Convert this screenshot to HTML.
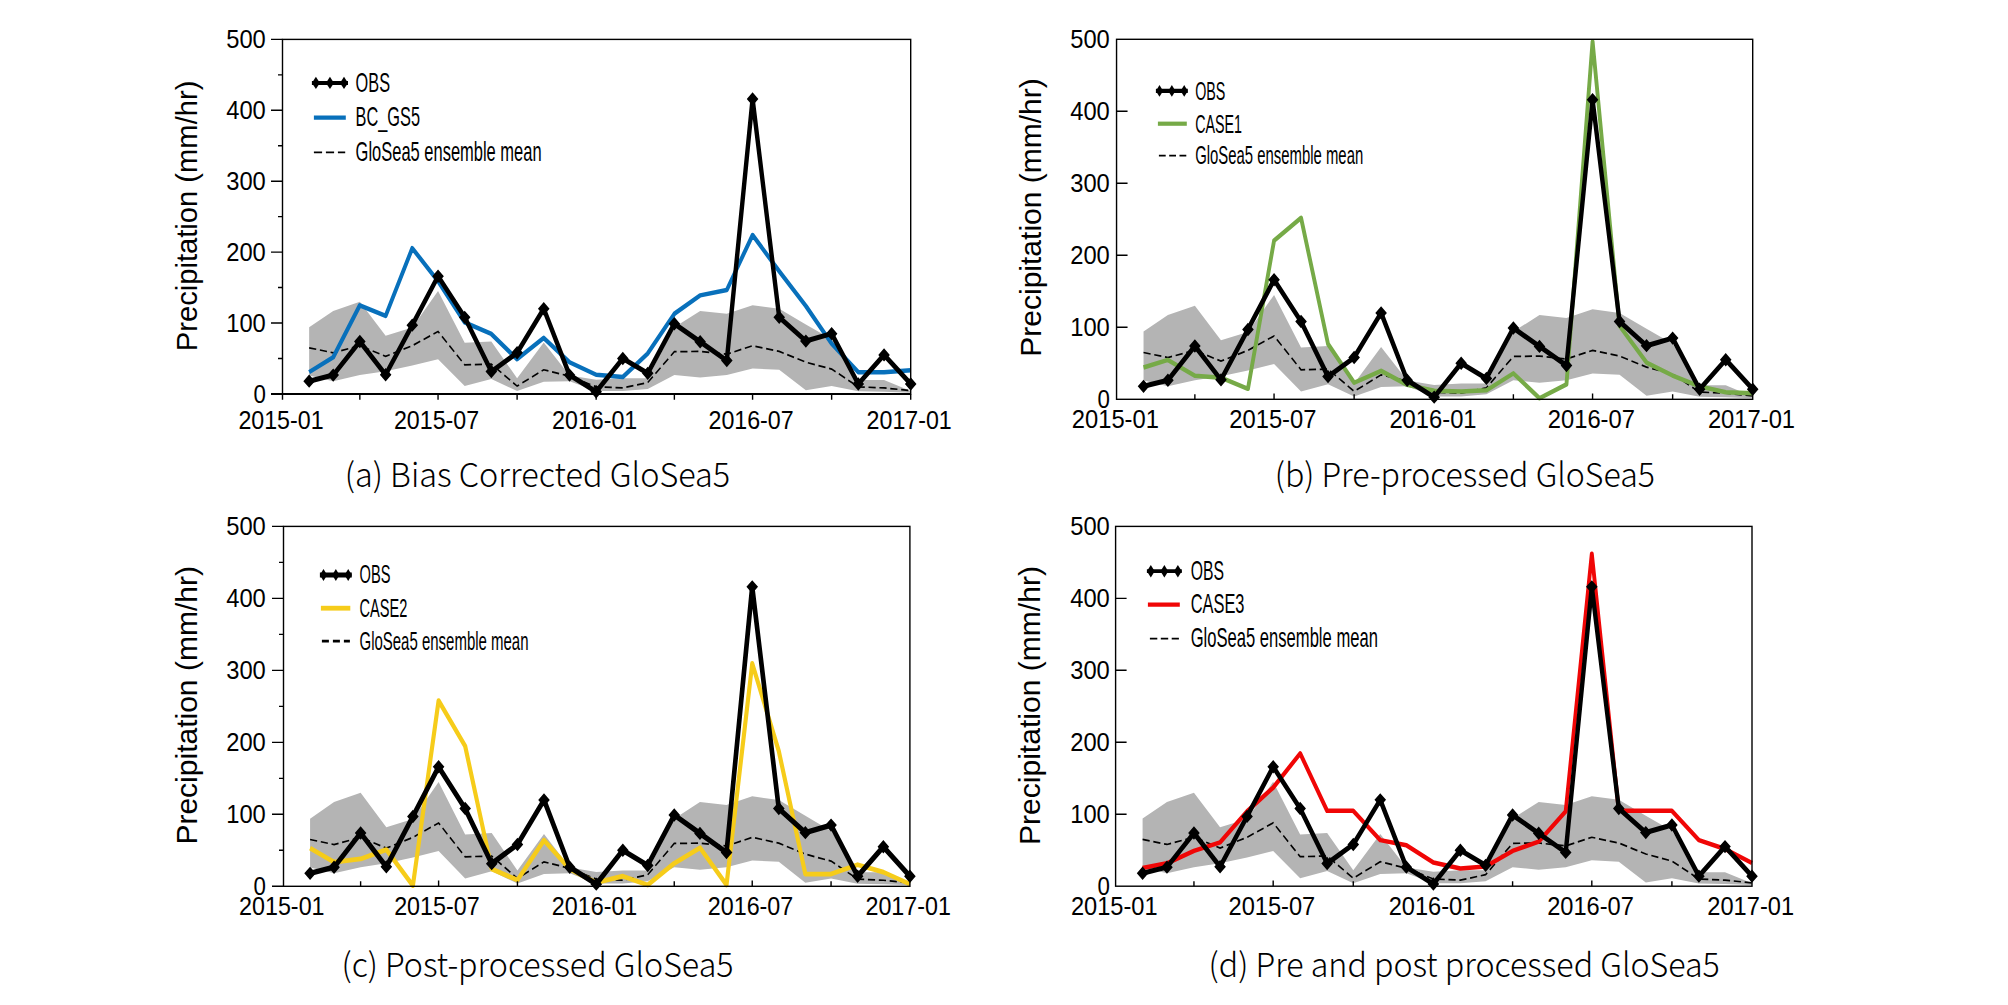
<!DOCTYPE html>
<html lang="en">
<head>
<meta charset="utf-8">
<title>Precipitation: OBS vs GloSea5</title>
<style>
html,body{margin:0;padding:0;background:#fff;}
body{width:2008px;height:1005px;overflow:hidden;}
svg{display:block;}
svg text{font-family:"Liberation Sans",Arial,sans-serif;fill:#000;}
svg text.cap{font-family:"Noto Sans CJK KR","Liberation Sans",sans-serif;font-weight:300;}
</style>
</head>
<body>
<svg width="2008" height="1005" viewBox="0 0 2008 1005">
<rect width="2008" height="1005" fill="#fff"/>
<g id="panel-a">
<clipPath id="clip-a"><rect x="274.5" y="39.4" width="644.2" height="362.5"/></clipPath>
<g clip-path="url(#clip-a)">
<g transform="scale(0.865 1)">
<polygon fill="#B4B4B4" points="357.39,327.25 385.21,310.95 416,301.73 445.81,335.76 476.61,327.61 506.41,291.09 537.21,342.85 568.01,341.43 597.81,378.3 628.61,342.43 658.42,375.47 689.21,379.72 720.01,378.3 748.82,378.3 779.62,327.25 809.43,310.95 840.23,313.78 870.03,305.27 900.83,308.82 931.63,324.42 961.43,339.31 992.23,380.07 1022.03,380.07 1052.83,391.06 1052.83,392.84 1022.03,391.77 992.23,391.35 961.43,386.1 931.63,390.35 900.83,369.79 870.03,368.38 840.23,375.11 809.43,377.59 779.62,375.11 748.82,388.94 720.01,391.06 689.21,391.06 658.42,381.14 628.61,381.85 597.81,391.06 568.01,379.01 537.21,386.1 506.41,359.16 476.61,365.54 445.81,371.21 416,375.11 385.21,381.14 357.39,375.47"/>
<polyline fill="none" stroke="#000" stroke-width="1.7" stroke-dasharray="8.3 4.3" points="357.39,347.81 385.21,352.78 416,345.69 445.81,356.32 476.61,345.69 506.41,331.51 537.21,364.83 568.01,364.12 597.81,386.1 628.61,369.79 658.42,376.17 689.21,386.81 720.01,387.94 748.82,382.56 779.62,351.71 809.43,351.36 840.23,354.2 870.03,345.69 900.83,351.36 931.63,362.21 961.43,369.08 992.23,386.81 1022.03,387.94 1052.83,390.57"/>
<polyline fill="none" stroke="#0870BB" stroke-width="4.5" stroke-linejoin="round" points="357.39,372.13 385.21,357.24 416,305.27 445.81,315.91 476.61,248.2 506.41,281.17 537.21,322.29 568.01,333.92 597.81,359.16 628.61,337.89 658.42,362.21 689.21,374.76 720.01,377.1 748.82,353.49 779.62,313.78 809.43,295.35 840.23,289.96 870.03,235.08 900.83,271.24 931.63,305.98 961.43,343.56 992.23,372.13 1022.03,372.13 1052.83,370.15"/>
<polyline fill="none" stroke="#000" stroke-width="5.1" stroke-linejoin="round" points="357.39,381.14 385.21,375.11 416,341.43 445.81,374.76 476.61,325.13 506.41,276.21 537.21,317.33 568.01,371.57 597.81,352.78 628.61,308.82 658.42,375.11 689.21,391.77 720.01,358.45 748.82,373.34 779.62,323.71 809.43,341.79 840.23,360.58 870.03,98.96 900.83,317.33 931.63,341.08 961.43,333.63 992.23,383.97 1022.03,354.9 1052.83,383.97"/>
<path d="M357.39 374.44L364.09 381.14L357.39 387.84L350.69 381.14ZM385.21 368.41L391.91 375.11L385.21 381.81L378.51 375.11ZM416 334.73L422.7 341.43L416 348.13L409.3 341.43ZM445.81 368.06L452.51 374.76L445.81 381.46L439.11 374.76ZM476.61 318.43L483.31 325.13L476.61 331.83L469.91 325.13ZM506.41 269.51L513.11 276.21L506.41 282.91L499.71 276.21ZM537.21 310.63L543.91 317.33L537.21 324.03L530.51 317.33ZM568.01 364.87L574.71 371.57L568.01 378.27L561.31 371.57ZM597.81 346.08L604.51 352.78L597.81 359.48L591.11 352.78ZM628.61 302.12L635.31 308.82L628.61 315.52L621.91 308.82ZM658.42 368.41L665.12 375.11L658.42 381.81L651.72 375.11ZM689.21 385.07L695.91 391.77L689.21 398.47L682.51 391.77ZM720.01 351.75L726.71 358.45L720.01 365.15L713.31 358.45ZM748.82 366.64L755.52 373.34L748.82 380.04L742.12 373.34ZM779.62 317.01L786.32 323.71L779.62 330.41L772.92 323.71ZM809.43 335.09L816.13 341.79L809.43 348.49L802.73 341.79ZM840.23 353.88L846.93 360.58L840.23 367.28L833.53 360.58ZM870.03 92.26L876.73 98.96L870.03 105.66L863.33 98.96ZM900.83 310.63L907.53 317.33L900.83 324.03L894.13 317.33ZM931.63 334.38L938.33 341.08L931.63 347.78L924.93 341.08ZM961.43 326.94L968.13 333.63L961.43 340.33L954.73 333.63ZM992.23 377.27L998.93 383.97L992.23 390.67L985.53 383.97ZM1022.03 348.2L1028.73 354.9L1022.03 361.6L1015.33 354.9ZM1052.83 377.27L1059.53 383.97L1052.83 390.67L1046.13 383.97Z"/>
</g>
</g>
<rect x="282.5" y="39.4" width="628.2" height="354.5" fill="none" stroke="#000" stroke-width="1.4"/>
<line x1="271" y1="393.9" x2="910.7" y2="393.9" stroke="#000" stroke-width="2"/>
<path d="M282.5 393.9H271M282.5 358.45H278M282.5 323H271M282.5 287.55H278M282.5 252.1H271M282.5 216.65H278M282.5 181.2H271M282.5 145.75H278M282.5 110.3H271M282.5 74.85H278M282.5 39.4H271M282.5 393.9V399.7M359.84 393.9V399.7M438.05 393.9V399.7M517.11 393.9V399.7M596.17 393.9V399.7M674.37 393.9V399.7M752.58 393.9V399.7M831.64 393.9V399.7M910.7 393.9V399.7" stroke="#000" stroke-width="1.4" fill="none"/>
<text x="265.8" y="402.5" font-size="26.5" text-anchor="end" textLength="12.4" lengthAdjust="spacingAndGlyphs" >0</text>
<text x="265.8" y="331.6" font-size="26.5" text-anchor="end" textLength="39.6" lengthAdjust="spacingAndGlyphs" >100</text>
<text x="265.8" y="260.7" font-size="26.5" text-anchor="end" textLength="39.6" lengthAdjust="spacingAndGlyphs" >200</text>
<text x="265.8" y="189.8" font-size="26.5" text-anchor="end" textLength="39.6" lengthAdjust="spacingAndGlyphs" >300</text>
<text x="265.8" y="118.9" font-size="26.5" text-anchor="end" textLength="39.6" lengthAdjust="spacingAndGlyphs" >400</text>
<text x="265.8" y="48" font-size="26.5" text-anchor="end" textLength="39.6" lengthAdjust="spacingAndGlyphs" >500</text>
<text x="238.4" y="428.8" font-size="26.5" text-anchor="start" textLength="85.2" lengthAdjust="spacingAndGlyphs" >2015-01</text>
<text x="393.95" y="428.8" font-size="26.5" text-anchor="start" textLength="85.2" lengthAdjust="spacingAndGlyphs" >2015-07</text>
<text x="552.07" y="428.8" font-size="26.5" text-anchor="start" textLength="85.2" lengthAdjust="spacingAndGlyphs" >2016-01</text>
<text x="708.48" y="428.8" font-size="26.5" text-anchor="start" textLength="85.2" lengthAdjust="spacingAndGlyphs" >2016-07</text>
<text x="866.6" y="428.8" font-size="26.5" text-anchor="start" textLength="85.2" lengthAdjust="spacingAndGlyphs" >2017-01</text>
<text transform="translate(196.8 351.2) rotate(-90)" font-size="29.3" textLength="270.6" lengthAdjust="spacingAndGlyphs">Precipitation (mm/hr)</text>
<line x1="311.9" y1="82.9" x2="348" y2="82.9" stroke="#000" stroke-width="4"/>
<path d="M315.9 76.7L319.9 82.9L315.9 89.1L311.9 82.9Z"/>
<path d="M329.95 76.7L333.95 82.9L329.95 89.1L325.95 82.9Z"/>
<path d="M344 76.7L348 82.9L344 89.1L340 82.9Z"/>
<line x1="313.9" y1="117.7" x2="345.8" y2="117.7" stroke="#0870BB" stroke-width="4.2"/>
<line x1="313.9" y1="152.4" x2="345.2" y2="152.4" stroke="#000" stroke-width="1.6" stroke-dasharray="8.2 3.8"/>
<text x="355.6" y="91.53" font-size="28" text-anchor="start" textLength="34.4" lengthAdjust="spacingAndGlyphs" >OBS</text>
<text x="355.6" y="126.33" font-size="28" text-anchor="start" textLength="64.4" lengthAdjust="spacingAndGlyphs" >BC_GS5</text>
<text x="355.6" y="161.03" font-size="28" text-anchor="start" textLength="186" lengthAdjust="spacingAndGlyphs" >GloSea5 ensemble mean</text>
<text x="344.8" y="487.4" font-size="33.2" class="cap" textLength="385.4" lengthAdjust="spacingAndGlyphs">(a) Bias Corrected GloSea5</text>
</g>
<g id="panel-b">
<clipPath id="clip-b"><rect x="1108.55" y="39.3" width="652.15" height="368"/></clipPath>
<g clip-path="url(#clip-b)">
<g transform="scale(0.865 1)">
<polygon fill="#B4B4B4" points="1322,331.62 1350.17,315.06 1381.36,305.7 1411.54,340.26 1442.73,331.98 1472.91,294.9 1504.1,347.46 1535.28,346.02 1565.46,383.46 1596.65,347.03 1626.83,380.58 1658.02,384.9 1689.21,383.46 1718.39,383.46 1749.57,331.62 1779.76,315.06 1810.94,317.94 1841.13,309.3 1872.31,312.9 1903.5,328.74 1933.68,343.86 1964.87,385.26 1995.05,385.26 2026.24,396.42 2026.24,398.22 1995.05,397.14 1964.87,396.71 1933.68,391.38 1903.5,395.7 1872.31,374.82 1841.13,373.38 1810.94,380.22 1779.76,382.74 1749.57,380.22 1718.39,394.26 1689.21,396.42 1658.02,396.42 1626.83,386.34 1596.65,387.06 1565.46,396.42 1535.28,384.18 1504.1,391.38 1472.91,364.02 1442.73,370.5 1411.54,376.26 1381.36,380.22 1350.17,386.34 1322,380.58"/>
<polyline fill="none" stroke="#000" stroke-width="1.7" stroke-dasharray="8.3 4.3" points="1322,352.5 1350.17,357.54 1381.36,350.34 1411.54,361.14 1442.73,350.34 1472.91,335.94 1504.1,369.78 1535.28,369.06 1565.46,391.38 1596.65,374.82 1626.83,381.3 1658.02,392.1 1689.21,393.25 1718.39,387.78 1749.57,356.46 1779.76,356.1 1810.94,358.98 1841.13,350.34 1872.31,356.1 1903.5,367.12 1933.68,374.1 1964.87,392.1 1995.05,393.25 2026.24,395.92"/>
<polyline fill="none" stroke="#76AA47" stroke-width="4.5" stroke-linejoin="round" points="1322,367.48 1350.17,359.92 1381.36,375.83 1411.54,377.7 1442.73,388.79 1472.91,240.61 1504.1,217.86 1535.28,344 1565.46,382.74 1596.65,370.86 1626.83,384.9 1658.02,390.66 1689.21,391.38 1718.39,390.37 1749.57,373.38 1779.76,398.29 1810.94,384.4 1841.13,41.46 1872.31,325.86 1903.5,362.58 1933.68,375.54 1964.87,386.34 1995.05,392.32 2026.24,393.32"/>
<polyline fill="none" stroke="#000" stroke-width="5.1" stroke-linejoin="round" points="1322,386.34 1350.17,380.22 1381.36,346.02 1411.54,379.86 1442.73,329.46 1472.91,279.78 1504.1,321.54 1535.28,376.62 1565.46,357.54 1596.65,312.9 1626.83,380.22 1658.02,397.14 1689.21,363.3 1718.39,378.42 1749.57,328.02 1779.76,346.38 1810.94,365.46 1841.13,99.78 1872.31,321.54 1903.5,345.66 1933.68,338.1 1964.87,389.22 1995.05,359.7 2026.24,389.22"/>
<path d="M1322 379.64L1328.7 386.34L1322 393.04L1315.3 386.34ZM1350.17 373.52L1356.87 380.22L1350.17 386.92L1343.47 380.22ZM1381.36 339.32L1388.06 346.02L1381.36 352.72L1374.66 346.02ZM1411.54 373.16L1418.24 379.86L1411.54 386.56L1404.84 379.86ZM1442.73 322.76L1449.43 329.46L1442.73 336.16L1436.03 329.46ZM1472.91 273.08L1479.61 279.78L1472.91 286.48L1466.21 279.78ZM1504.1 314.84L1510.8 321.54L1504.1 328.24L1497.4 321.54ZM1535.28 369.92L1541.98 376.62L1535.28 383.32L1528.58 376.62ZM1565.46 350.84L1572.16 357.54L1565.46 364.24L1558.76 357.54ZM1596.65 306.2L1603.35 312.9L1596.65 319.6L1589.95 312.9ZM1626.83 373.52L1633.53 380.22L1626.83 386.92L1620.13 380.22ZM1658.02 390.44L1664.72 397.14L1658.02 403.84L1651.32 397.14ZM1689.21 356.6L1695.91 363.3L1689.21 370L1682.51 363.3ZM1718.39 371.72L1725.09 378.42L1718.39 385.12L1711.69 378.42ZM1749.57 321.32L1756.27 328.02L1749.57 334.72L1742.87 328.02ZM1779.76 339.68L1786.46 346.38L1779.76 353.08L1773.06 346.38ZM1810.94 358.76L1817.64 365.46L1810.94 372.16L1804.24 365.46ZM1841.13 93.08L1847.83 99.78L1841.13 106.48L1834.43 99.78ZM1872.31 314.84L1879.01 321.54L1872.31 328.24L1865.61 321.54ZM1903.5 338.96L1910.2 345.66L1903.5 352.36L1896.8 345.66ZM1933.68 331.4L1940.38 338.1L1933.68 344.8L1926.98 338.1ZM1964.87 382.52L1971.57 389.22L1964.87 395.92L1958.17 389.22ZM1995.05 353L2001.75 359.7L1995.05 366.4L1988.35 359.7ZM2026.24 382.52L2032.94 389.22L2026.24 395.92L2019.54 389.22Z"/>
</g>
</g>
<rect x="1116.55" y="39.3" width="636.15" height="360" fill="none" stroke="#000" stroke-width="1.4"/>
<path d="M1116.55 327.3H1127.55M1116.55 255.3H1127.55M1116.55 183.3H1127.55M1116.55 111.3H1127.55M1194.87 399.3V394.3M1274.06 399.3V393.5M1354.13 399.3V394.3M1434.19 399.3V393.5M1513.38 399.3V394.3M1592.57 399.3V393.5M1672.64 399.3V394.3" stroke="#000" stroke-width="1.4" fill="none"/>
<text x="1109.8" y="407.9" font-size="26.5" text-anchor="end" textLength="12.4" lengthAdjust="spacingAndGlyphs" >0</text>
<text x="1109.8" y="335.9" font-size="26.5" text-anchor="end" textLength="39.6" lengthAdjust="spacingAndGlyphs" >100</text>
<text x="1109.8" y="263.9" font-size="26.5" text-anchor="end" textLength="39.6" lengthAdjust="spacingAndGlyphs" >200</text>
<text x="1109.8" y="191.9" font-size="26.5" text-anchor="end" textLength="39.6" lengthAdjust="spacingAndGlyphs" >300</text>
<text x="1109.8" y="119.9" font-size="26.5" text-anchor="end" textLength="39.6" lengthAdjust="spacingAndGlyphs" >400</text>
<text x="1109.8" y="47.9" font-size="26.5" text-anchor="end" textLength="39.6" lengthAdjust="spacingAndGlyphs" >500</text>
<text x="1071.75" y="428.4" font-size="26.5" text-anchor="start" textLength="87.2" lengthAdjust="spacingAndGlyphs" >2015-01</text>
<text x="1229.26" y="428.4" font-size="26.5" text-anchor="start" textLength="87.2" lengthAdjust="spacingAndGlyphs" >2015-07</text>
<text x="1389.39" y="428.4" font-size="26.5" text-anchor="start" textLength="87.2" lengthAdjust="spacingAndGlyphs" >2016-01</text>
<text x="1547.77" y="428.4" font-size="26.5" text-anchor="start" textLength="87.2" lengthAdjust="spacingAndGlyphs" >2016-07</text>
<text x="1707.9" y="428.4" font-size="26.5" text-anchor="start" textLength="87.2" lengthAdjust="spacingAndGlyphs" >2017-01</text>
<text transform="translate(1040.8 356.7) rotate(-90)" font-size="29.3" textLength="278.5" lengthAdjust="spacingAndGlyphs">Precipitation (mm/hr)</text>
<line x1="1155.9" y1="90.9" x2="1187.8" y2="90.9" stroke="#000" stroke-width="4.2"/>
<path d="M1159.5 85.1L1163.1 90.9L1159.5 96.7L1155.9 90.9Z"/>
<path d="M1171.85 85.1L1175.45 90.9L1171.85 96.7L1168.25 90.9Z"/>
<path d="M1184.2 85.1L1187.8 90.9L1184.2 96.7L1180.6 90.9Z"/>
<line x1="1157.9" y1="123.7" x2="1186.8" y2="123.7" stroke="#76AA47" stroke-width="4.2"/>
<line x1="1158.9" y1="155.6" x2="1186.4" y2="155.6" stroke="#000" stroke-width="1.6" stroke-dasharray="6.8 3.5"/>
<text x="1195.2" y="99.74" font-size="25.7" text-anchor="start" textLength="30.2" lengthAdjust="spacingAndGlyphs" >OBS</text>
<text x="1195.2" y="132.54" font-size="25.7" text-anchor="start" textLength="46.8" lengthAdjust="spacingAndGlyphs" >CASE1</text>
<text x="1195.2" y="164.44" font-size="25.7" text-anchor="start" textLength="168" lengthAdjust="spacingAndGlyphs" >GloSea5 ensemble mean</text>
<text x="1274.8" y="487.4" font-size="33.2" class="cap" textLength="380.1" lengthAdjust="spacingAndGlyphs">(b) Pre-processed GloSea5</text>
</g>
<g id="panel-c">
<clipPath id="clip-c"><rect x="275.5" y="526.4" width="642.4" height="367.9"/></clipPath>
<g clip-path="url(#clip-c)">
<g transform="scale(0.865 1)">
<polygon fill="#B4B4B4" points="358.46,818.64 386.19,802.08 416.9,792.73 446.62,827.28 477.33,819 507.05,781.93 537.76,834.47 568.47,833.03 598.19,870.46 628.9,834.04 658.62,867.59 689.33,871.9 720.04,870.46 748.77,870.46 779.48,818.64 809.2,802.08 839.91,804.96 869.63,796.32 900.34,799.92 931.05,815.76 960.77,830.88 991.48,872.26 1021.2,872.26 1051.91,883.42 1051.91,885.22 1021.2,884.14 991.48,883.71 960.77,878.38 931.05,882.7 900.34,861.83 869.63,860.39 839.91,867.23 809.2,869.74 779.48,867.23 748.77,881.26 720.04,883.42 689.33,883.42 658.62,873.34 628.9,874.06 598.19,883.42 568.47,871.18 537.76,878.38 507.05,851.03 477.33,857.51 446.62,863.27 416.9,867.23 386.19,873.34 358.46,867.59"/>
<polyline fill="none" stroke="#000" stroke-width="1.7" stroke-dasharray="8.3 4.3" points="358.46,839.51 386.19,844.55 416.9,837.35 446.62,848.15 477.33,837.35 507.05,822.96 537.76,856.79 568.47,856.07 598.19,878.38 628.9,861.83 658.62,868.3 689.33,879.1 720.04,880.25 748.77,874.78 779.48,843.47 809.2,843.11 839.91,845.99 869.63,837.35 900.34,843.11 931.05,854.12 960.77,861.11 991.48,879.1 1021.2,880.25 1051.91,882.92"/>
<polyline fill="none" stroke="#F6CC1A" stroke-width="4.8" stroke-linejoin="round" points="358.46,848.15 386.19,862.11 416.9,858.95 446.62,849.59 477.33,885.58 507.05,700.59 537.76,746.15 568.47,869.02 598.19,880.11 628.9,840.23 658.62,869.02 689.33,882.7 720.04,876.22 748.77,885.08 779.48,863.27 809.2,847.79 839.91,884.86 869.63,663.45 900.34,751.12 931.05,874.06 960.77,874.06 991.48,864.71 1021.2,872.12 1051.91,884.14"/>
<polyline fill="none" stroke="#000" stroke-width="5.4" stroke-linejoin="round" points="358.46,873.34 386.19,867.23 416.9,833.03 446.62,866.87 477.33,816.48 507.05,766.81 537.76,808.56 568.47,863.63 598.19,844.55 628.9,799.92 658.62,867.23 689.33,884.14 720.04,850.31 748.77,865.43 779.48,815.04 809.2,833.39 839.91,852.47 869.63,586.86 900.34,808.56 931.05,832.67 960.77,825.12 991.48,876.22 1021.2,846.71 1051.91,876.22"/>
<path d="M358.46 866.64L365.16 873.34L358.46 880.04L351.76 873.34ZM386.19 860.53L392.89 867.23L386.19 873.93L379.49 867.23ZM416.9 826.33L423.6 833.03L416.9 839.73L410.2 833.03ZM446.62 860.17L453.32 866.87L446.62 873.57L439.92 866.87ZM477.33 809.78L484.03 816.48L477.33 823.18L470.63 816.48ZM507.05 760.11L513.75 766.81L507.05 773.51L500.35 766.81ZM537.76 801.86L544.46 808.56L537.76 815.26L531.06 808.56ZM568.47 856.93L575.17 863.63L568.47 870.33L561.77 863.63ZM598.19 837.85L604.89 844.55L598.19 851.25L591.49 844.55ZM628.9 793.22L635.6 799.92L628.9 806.62L622.2 799.92ZM658.62 860.53L665.32 867.23L658.62 873.93L651.92 867.23ZM689.33 877.44L696.03 884.14L689.33 890.84L682.63 884.14ZM720.04 843.61L726.74 850.31L720.04 857.01L713.34 850.31ZM748.77 858.73L755.47 865.43L748.77 872.13L742.07 865.43ZM779.48 808.34L786.18 815.04L779.48 821.74L772.78 815.04ZM809.2 826.69L815.9 833.39L809.2 840.09L802.5 833.39ZM839.91 845.77L846.61 852.47L839.91 859.17L833.21 852.47ZM869.63 580.16L876.33 586.86L869.63 593.56L862.93 586.86ZM900.34 801.86L907.04 808.56L900.34 815.26L893.64 808.56ZM931.05 825.97L937.75 832.67L931.05 839.37L924.35 832.67ZM960.77 818.42L967.47 825.12L960.77 831.82L954.07 825.12ZM991.48 869.52L998.18 876.22L991.48 882.92L984.78 876.22ZM1021.2 840.01L1027.9 846.71L1021.2 853.41L1014.5 846.71ZM1051.91 869.52L1058.61 876.22L1051.91 882.92L1045.21 876.22Z"/>
</g>
</g>
<rect x="283.5" y="526.4" width="626.4" height="359.9" fill="none" stroke="#000" stroke-width="1.4"/>
<path d="M283.5 886.3H272M283.5 850.31H279M283.5 814.32H272M283.5 778.33H279M283.5 742.34H272M283.5 706.35H279M283.5 670.36H272M283.5 634.37H279M283.5 598.38H272M283.5 562.39H279M283.5 526.4H272M360.62 886.3V881.3M438.6 886.3V880.5M517.44 886.3V881.3M596.27 886.3V880.5M674.25 886.3V881.3M752.23 886.3V880.5M831.06 886.3V881.3" stroke="#000" stroke-width="1.4" fill="none"/>
<text x="265.8" y="894.9" font-size="26.5" text-anchor="end" textLength="12.4" lengthAdjust="spacingAndGlyphs" >0</text>
<text x="265.8" y="822.92" font-size="26.5" text-anchor="end" textLength="39.6" lengthAdjust="spacingAndGlyphs" >100</text>
<text x="265.8" y="750.94" font-size="26.5" text-anchor="end" textLength="39.6" lengthAdjust="spacingAndGlyphs" >200</text>
<text x="265.8" y="678.96" font-size="26.5" text-anchor="end" textLength="39.6" lengthAdjust="spacingAndGlyphs" >300</text>
<text x="265.8" y="606.98" font-size="26.5" text-anchor="end" textLength="39.6" lengthAdjust="spacingAndGlyphs" >400</text>
<text x="265.8" y="535" font-size="26.5" text-anchor="end" textLength="39.6" lengthAdjust="spacingAndGlyphs" >500</text>
<text x="239.05" y="914.6" font-size="26.5" text-anchor="start" textLength="85.5" lengthAdjust="spacingAndGlyphs" >2015-01</text>
<text x="394.15" y="914.6" font-size="26.5" text-anchor="start" textLength="85.5" lengthAdjust="spacingAndGlyphs" >2015-07</text>
<text x="551.82" y="914.6" font-size="26.5" text-anchor="start" textLength="85.5" lengthAdjust="spacingAndGlyphs" >2016-01</text>
<text x="707.78" y="914.6" font-size="26.5" text-anchor="start" textLength="85.5" lengthAdjust="spacingAndGlyphs" >2016-07</text>
<text x="865.45" y="914.6" font-size="26.5" text-anchor="start" textLength="85.5" lengthAdjust="spacingAndGlyphs" >2017-01</text>
<text transform="translate(197.1 844.6) rotate(-90)" font-size="29.3" textLength="278.5" lengthAdjust="spacingAndGlyphs">Precipitation (mm/hr)</text>
<line x1="319.9" y1="574.9" x2="351.8" y2="574.9" stroke="#000" stroke-width="5"/>
<path d="M323.5 568.9L327.1 574.9L323.5 580.9L319.9 574.9Z"/>
<path d="M335.85 568.9L339.45 574.9L335.85 580.9L332.25 574.9Z"/>
<path d="M348.2 568.9L351.8 574.9L348.2 580.9L344.6 574.9Z"/>
<line x1="320.9" y1="608.2" x2="350.3" y2="608.2" stroke="#F6CC1A" stroke-width="4.8"/>
<line x1="321.9" y1="641.1" x2="349.9" y2="641.1" stroke="#000" stroke-width="2.6" stroke-dasharray="7 4"/>
<text x="359.5" y="583.44" font-size="25.7" text-anchor="start" textLength="30.9" lengthAdjust="spacingAndGlyphs" >OBS</text>
<text x="359.5" y="616.74" font-size="25.7" text-anchor="start" textLength="47.8" lengthAdjust="spacingAndGlyphs" >CASE2</text>
<text x="359.5" y="649.64" font-size="25.7" text-anchor="start" textLength="169" lengthAdjust="spacingAndGlyphs" >GloSea5 ensemble mean</text>
<text x="341.5" y="977.3" font-size="33.2" class="cap" textLength="392" lengthAdjust="spacingAndGlyphs">(c) Post-processed GloSea5</text>
</g>
<g id="panel-d">
<clipPath id="clip-d"><rect x="1107.6" y="526.4" width="652.4" height="367.8"/></clipPath>
<g clip-path="url(#clip-d)">
<g transform="scale(0.865 1)">
<polygon fill="#B4B4B4" points="1320.91,818.56 1349.09,802.01 1380.29,792.65 1410.49,827.19 1441.69,818.92 1471.88,781.86 1503.08,834.39 1534.28,832.95 1564.47,870.37 1595.67,833.96 1625.87,867.49 1657.07,871.81 1688.27,870.37 1717.46,870.37 1748.66,818.56 1778.85,802.01 1810.05,804.89 1840.24,796.25 1871.45,799.85 1902.65,815.68 1932.84,830.79 1964.04,872.17 1994.23,872.17 2025.43,883.32 2025.43,885.12 1994.23,884.04 1964.04,883.61 1932.84,878.28 1902.65,882.6 1871.45,861.73 1840.24,860.29 1810.05,867.13 1778.85,869.65 1748.66,867.13 1717.46,881.16 1688.27,883.32 1657.07,883.32 1625.87,873.25 1595.67,873.97 1564.47,883.32 1534.28,871.09 1503.08,878.28 1471.88,850.94 1441.69,857.42 1410.49,863.17 1380.29,867.13 1349.09,873.25 1320.91,867.49"/>
<polyline fill="none" stroke="#000" stroke-width="1.7" stroke-dasharray="8.3 4.3" points="1320.91,839.43 1349.09,844.46 1380.29,837.27 1410.49,848.06 1441.69,837.27 1471.88,822.88 1503.08,856.7 1534.28,855.98 1564.47,878.28 1595.67,861.73 1625.87,868.21 1657.07,879 1688.27,880.16 1717.46,874.69 1748.66,843.38 1778.85,843.02 1810.05,845.9 1840.24,837.27 1871.45,843.02 1902.65,854.03 1932.84,861.01 1964.04,879 1994.23,880.16 2025.43,882.82"/>
<polyline fill="none" stroke="#F00606" stroke-width="4.5" stroke-linejoin="round" points="1320.91,867.92 1349.09,863.32 1380.29,850.94 1410.49,842.3 1441.69,811.36 1471.88,787.61 1503.08,753.43 1534.28,810.86 1564.47,810.86 1595.67,840.15 1625.87,845.18 1657.07,862.45 1688.27,868.5 1717.46,866.55 1748.66,850.94 1778.85,841.58 1810.05,811.36 1840.24,553.74 1871.45,810.86 1902.65,810.86 1932.84,810.86 1964.04,840.15 1994.23,849 2025.43,862.96"/>
<polyline fill="none" stroke="#000" stroke-width="5.1" stroke-linejoin="round" points="1320.91,873.25 1349.09,867.13 1380.29,832.95 1410.49,866.77 1441.69,816.4 1471.88,766.75 1503.08,808.48 1534.28,863.53 1564.47,844.46 1595.67,799.85 1625.87,867.13 1657.07,884.04 1688.27,850.22 1717.46,865.33 1748.66,814.96 1778.85,833.31 1810.05,852.38 1840.24,586.85 1871.45,808.48 1902.65,832.59 1932.84,825.03 1964.04,876.13 1994.23,846.62 2025.43,876.13"/>
<path d="M1320.91 866.55L1327.61 873.25L1320.91 879.95L1314.21 873.25ZM1349.09 860.43L1355.79 867.13L1349.09 873.83L1342.39 867.13ZM1380.29 826.25L1386.99 832.95L1380.29 839.65L1373.59 832.95ZM1410.49 860.07L1417.19 866.77L1410.49 873.47L1403.79 866.77ZM1441.69 809.7L1448.39 816.4L1441.69 823.1L1434.99 816.4ZM1471.88 760.05L1478.58 766.75L1471.88 773.45L1465.18 766.75ZM1503.08 801.78L1509.78 808.48L1503.08 815.18L1496.38 808.48ZM1534.28 856.83L1540.98 863.53L1534.28 870.23L1527.58 863.53ZM1564.47 837.76L1571.17 844.46L1564.47 851.16L1557.77 844.46ZM1595.67 793.15L1602.37 799.85L1595.67 806.55L1588.97 799.85ZM1625.87 860.43L1632.57 867.13L1625.87 873.83L1619.17 867.13ZM1657.07 877.34L1663.77 884.04L1657.07 890.74L1650.37 884.04ZM1688.27 843.52L1694.97 850.22L1688.27 856.92L1681.57 850.22ZM1717.46 858.63L1724.16 865.33L1717.46 872.03L1710.76 865.33ZM1748.66 808.26L1755.36 814.96L1748.66 821.66L1741.96 814.96ZM1778.85 826.61L1785.55 833.31L1778.85 840.01L1772.15 833.31ZM1810.05 845.68L1816.75 852.38L1810.05 859.08L1803.35 852.38ZM1840.24 580.15L1846.94 586.85L1840.24 593.55L1833.54 586.85ZM1871.45 801.78L1878.15 808.48L1871.45 815.18L1864.75 808.48ZM1902.65 825.89L1909.35 832.59L1902.65 839.29L1895.95 832.59ZM1932.84 818.33L1939.54 825.03L1932.84 831.73L1926.14 825.03ZM1964.04 869.43L1970.74 876.13L1964.04 882.83L1957.34 876.13ZM1994.23 839.92L2000.93 846.62L1994.23 853.32L1987.53 846.62ZM2025.43 869.43L2032.13 876.13L2025.43 882.83L2018.73 876.13Z"/>
</g>
</g>
<rect x="1115.6" y="526.4" width="636.4" height="359.8" fill="none" stroke="#000" stroke-width="1.4"/>
<path d="M1115.6 814.24H1126.6M1115.6 742.28H1126.6M1115.6 670.32H1126.6M1115.6 598.36H1126.6M1193.95 886.2V881.2M1273.18 886.2V880.4M1353.27 886.2V881.2M1433.36 886.2V880.4M1512.59 886.2V881.2M1591.81 886.2V880.4M1671.91 886.2V881.2" stroke="#000" stroke-width="1.4" fill="none"/>
<text x="1109.8" y="894.8" font-size="26.5" text-anchor="end" textLength="12.4" lengthAdjust="spacingAndGlyphs" >0</text>
<text x="1109.8" y="822.84" font-size="26.5" text-anchor="end" textLength="39.6" lengthAdjust="spacingAndGlyphs" >100</text>
<text x="1109.8" y="750.88" font-size="26.5" text-anchor="end" textLength="39.6" lengthAdjust="spacingAndGlyphs" >200</text>
<text x="1109.8" y="678.92" font-size="26.5" text-anchor="end" textLength="39.6" lengthAdjust="spacingAndGlyphs" >300</text>
<text x="1109.8" y="606.96" font-size="26.5" text-anchor="end" textLength="39.6" lengthAdjust="spacingAndGlyphs" >400</text>
<text x="1109.8" y="535" font-size="26.5" text-anchor="end" textLength="39.6" lengthAdjust="spacingAndGlyphs" >500</text>
<text x="1070.95" y="914.7" font-size="26.5" text-anchor="start" textLength="86.7" lengthAdjust="spacingAndGlyphs" >2015-01</text>
<text x="1228.53" y="914.7" font-size="26.5" text-anchor="start" textLength="86.7" lengthAdjust="spacingAndGlyphs" >2015-07</text>
<text x="1388.71" y="914.7" font-size="26.5" text-anchor="start" textLength="86.7" lengthAdjust="spacingAndGlyphs" >2016-01</text>
<text x="1547.16" y="914.7" font-size="26.5" text-anchor="start" textLength="86.7" lengthAdjust="spacingAndGlyphs" >2016-07</text>
<text x="1707.35" y="914.7" font-size="26.5" text-anchor="start" textLength="86.7" lengthAdjust="spacingAndGlyphs" >2017-01</text>
<text transform="translate(1040.1 845) rotate(-90)" font-size="29.3" textLength="278.9" lengthAdjust="spacingAndGlyphs">Precipitation (mm/hr)</text>
<line x1="1146.9" y1="571.2" x2="1181.8" y2="571.2" stroke="#000" stroke-width="3.8"/>
<path d="M1150.8 565L1154.7 571.2L1150.8 577.4L1146.9 571.2Z"/>
<path d="M1164.35 565L1168.25 571.2L1164.35 577.4L1160.45 571.2Z"/>
<path d="M1177.9 565L1181.8 571.2L1177.9 577.4L1174 571.2Z"/>
<line x1="1147.9" y1="604.7" x2="1179.8" y2="604.7" stroke="#F00606" stroke-width="4.2"/>
<line x1="1149.9" y1="638.6" x2="1178.9" y2="638.6" stroke="#000" stroke-width="1.6" stroke-dasharray="7.4 3.5"/>
<text x="1190.7" y="579.59" font-size="27.3" text-anchor="start" textLength="33.3" lengthAdjust="spacingAndGlyphs" >OBS</text>
<text x="1190.7" y="613.09" font-size="27.3" text-anchor="start" textLength="53.8" lengthAdjust="spacingAndGlyphs" >CASE3</text>
<text x="1190.7" y="646.99" font-size="27.3" text-anchor="start" textLength="187.2" lengthAdjust="spacingAndGlyphs" >GloSea5 ensemble mean</text>
<text x="1208.6" y="977.3" font-size="33.2" class="cap" textLength="511.2" lengthAdjust="spacingAndGlyphs">(d) Pre and post processed GloSea5</text>
</g>
</svg>
</body>
</html>
